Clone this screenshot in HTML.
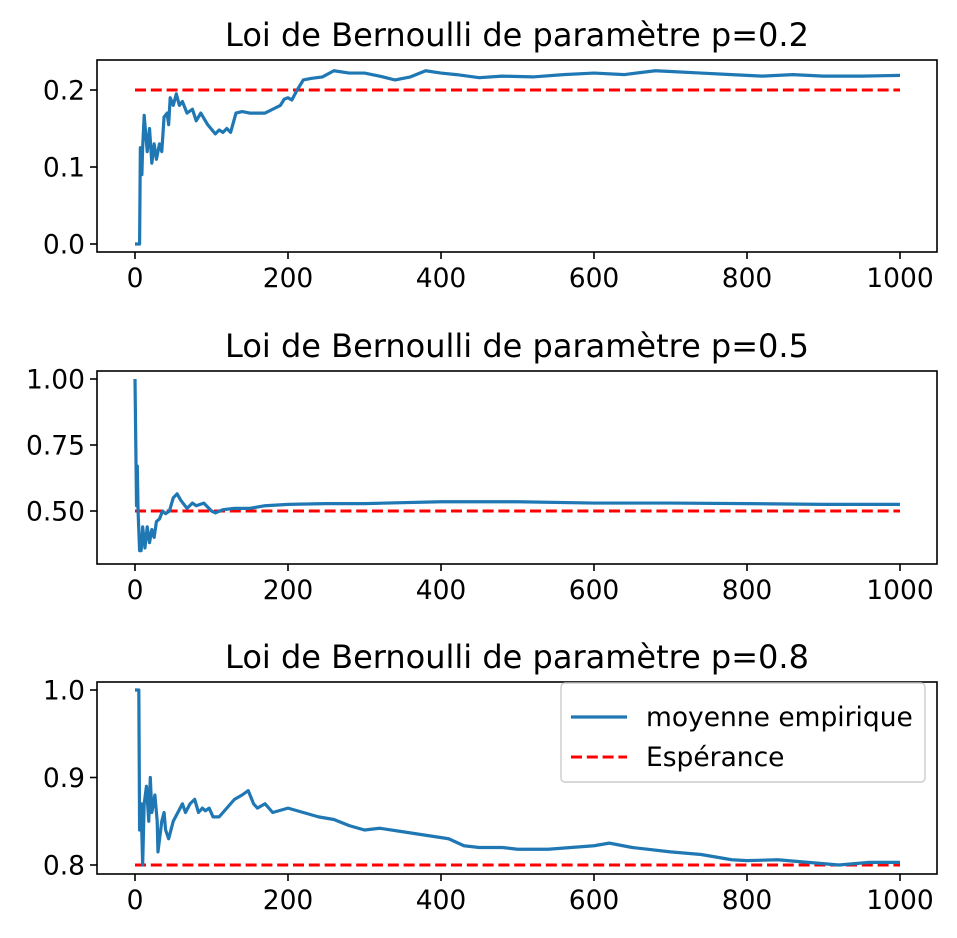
<!DOCTYPE html>
<html><head><meta charset="utf-8"><style>
body{margin:0;background:#fff}
svg{display:block;font-family:"DejaVu Sans","Liberation Sans",sans-serif}
</style></head><body>
<svg id="fig" width="957" height="938" viewBox="0 0 957 938" xmlns="http://www.w3.org/2000/svg"></svg>
<script>
const xTicks=[0,200,400,600,800,1000];
const titles=["Loi de Bernoulli de paramètre p=0.2","Loi de Bernoulli de paramètre p=0.5","Loi de Bernoulli de paramètre p=0.8"];
const expectations=[0.2,0.5,0.8];
const yTicks1=[0.0,0.1,0.2];
const yTickLabels1=["0.0","0.1","0.2"];
const yTicks2=[0.5,0.75,1.0];
const yTickLabels2=["0.50","0.75","1.00"];
const yTicks3=[0.8,0.9,1.0];
const yTickLabels3=["0.8","0.9","1.0"];
const series1X=[0,6,7,9,10,12,16,19,22,25,28,32,35,38,42,44,46,50,54,58,62,68,75,80,86,95,105,110,115,120,125,132,140,150,160,170,180,190,195,200,205,212,220,230,245,260,280,300,320,340,360,380,400,420,450,480,520,560,600,640,680,700,740,780,820,860,900,950,1000];
const series1Y=[0,0,0.125,0.09,0.125,0.167,0.12,0.15,0.105,0.13,0.11,0.13,0.12,0.165,0.17,0.155,0.19,0.18,0.195,0.18,0.185,0.17,0.175,0.16,0.17,0.155,0.143,0.148,0.145,0.15,0.145,0.17,0.172,0.17,0.17,0.17,0.175,0.18,0.188,0.19,0.187,0.2,0.213,0.215,0.217,0.225,0.222,0.222,0.218,0.213,0.217,0.225,0.222,0.22,0.216,0.218,0.217,0.22,0.222,0.22,0.225,0.224,0.222,0.22,0.218,0.22,0.218,0.218,0.219];
const series2X=[0,2,3,4,6,8,10,13,16,19,22,25,28,32,36,40,45,50,55,60,68,75,80,90,100,105,115,130,150,170,200,250,300,400,500,600,700,800,900,1000];
const series2Y=[1.0,0.52,0.67,0.5,0.35,0.35,0.44,0.36,0.44,0.38,0.43,0.4,0.46,0.47,0.5,0.49,0.5,0.55,0.565,0.54,0.51,0.53,0.52,0.53,0.5,0.493,0.505,0.51,0.51,0.52,0.525,0.528,0.528,0.535,0.535,0.53,0.53,0.528,0.525,0.525];
const series3X=[0,5,6,8,9,10,12,15,18,20,22,26,29,30,35,38,40,44,50,56,62,66,72,78,83,88,92,97,102,110,120,130,140,148,155,160,170,180,200,220,240,260,280,300,320,350,380,410,430,450,480,500,540,570,600,620,650,700,740,780,800,840,880,920,960,1000];
const series3Y=[1,1,0.84,0.87,0.835,0.8,0.87,0.89,0.85,0.9,0.86,0.88,0.85,0.815,0.85,0.86,0.84,0.83,0.85,0.86,0.87,0.86,0.87,0.875,0.86,0.865,0.862,0.865,0.855,0.855,0.865,0.875,0.88,0.885,0.87,0.865,0.87,0.86,0.865,0.86,0.855,0.852,0.845,0.84,0.842,0.838,0.834,0.83,0.822,0.82,0.82,0.818,0.818,0.82,0.822,0.825,0.82,0.815,0.812,0.806,0.805,0.806,0.803,0.8,0.803,0.803];

const NS="http://www.w3.org/2000/svg";
const svg=document.getElementById('fig');
function mk(tag,attrs,parent){const e=document.createElementNS(NS,tag);for(const k in attrs)e.setAttribute(k,attrs[k]);(parent||svg).appendChild(e);return e;}
const X0=97,X1=937;
function xs(v){return 135+v*0.765;}
const panels=[
 {top:60,bot:252,ys:v=>244-(v-0)*770,ticks:yTicks1,labels:yTickLabels1,sx:series1X,sy:series1Y},
 {top:371,bot:564,ys:v=>511-(v-0.5)*264,ticks:yTicks2,labels:yTickLabels2,sx:series2X,sy:series2Y},
 {top:682,bot:874,ys:v=>865-(v-0.8)*875,ticks:yTicks3,labels:yTickLabels3,sx:series3X,sy:series3Y}
];
panels.forEach((p,i)=>{
 const g=mk('g',{});
 
 
 const t=mk('text',{x:517,y:p.top-14,'text-anchor':'middle','font-size':'32'},g);
 t.textContent=titles[i];
 
 
 const e=mk('line',{x1:xs(0),x2:xs(1000),y1:p.ys(expectations[i]),y2:p.ys(expectations[i]),stroke:'#ff0000','stroke-width':3,'stroke-dasharray':'11,4.8'},g);
 
 
 let d='';
 p.sx.forEach((x,j)=>{d+=(j?'L':'M')+xs(x).toFixed(2)+','+p.ys(p.sy[j]).toFixed(2);});
 const s=mk('path',{d:d,fill:'none',stroke:'#1f77b4','stroke-width':3.2,'stroke-linejoin':'round'},g);
 
 
 const r=mk('rect',{x:X0,y:p.top,width:X1-X0,height:p.bot-p.top,fill:'none',stroke:'#000','stroke-width':1.6},g);
 
 
 xTicks.forEach(v=>{
  mk('line',{x1:xs(v),x2:xs(v),y1:p.bot,y2:p.bot+7,stroke:'#000','stroke-width':1.6},g);
  const l=mk('text',{x:xs(v),y:p.bot+35,'text-anchor':'middle','font-size':'26.5'},g);
  l.textContent=v;
  
  
 });
 p.ticks.forEach((v,j)=>{
  const y=p.ys(v);
  mk('line',{x1:X0-7,x2:X0,y1:y,y2:y,stroke:'#000','stroke-width':1.6},g);
  const l=mk('text',{x:X0-12,y:y+9.5,'text-anchor':'end','font-size':'26.5'},g);
  l.textContent=p.labels[j];
  
  
 });
});
const lg=mk('g',{});


mk('rect',{x:561,y:683,width:364,height:99,rx:4,fill:'#fff','fill-opacity':0.8,stroke:'#ccc','stroke-width':1.4},lg);
mk('line',{x1:571,x2:627,y1:717,y2:717,stroke:'#1f77b4','stroke-width':3.2},lg);
const lt1=mk('text',{x:646,y:726,'font-size':'26.5'},lg);
lt1.textContent='moyenne empirique';


mk('line',{x1:571,x2:627,y1:757,y2:757,stroke:'#ff0000','stroke-width':3,'stroke-dasharray':'11,4.8'},lg);
const lt2=mk('text',{x:646,y:766,'font-size':'26.5'},lg);
lt2.textContent='Espérance';


</script>
</body></html>
